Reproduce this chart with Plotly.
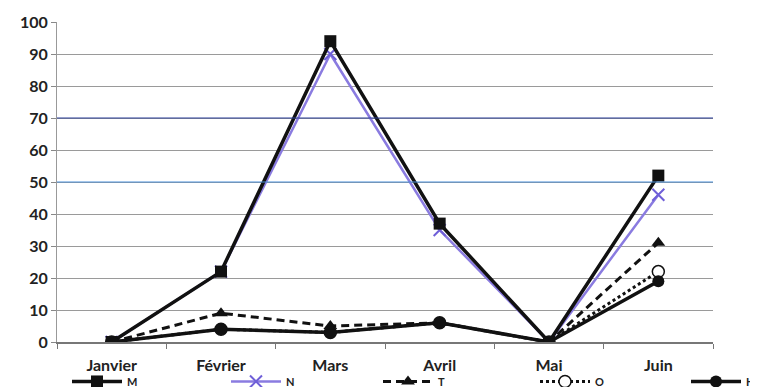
import plotly.graph_objects as go

months = ["Janvier", "Février", "Mars", "Avril", "Mai", "Juin"]
M = [0, 22, 94, 37, 0, 52]
N = [0, 22, 90, 35, 0, 46]
T = [0, 9, 5, 6, 0, 31]
O = [0, 4, 3, 6, 0, 22]
H = [0, 4, 3, 6, 0, 19]
y_ticks = [0, 10, 20, 30, 40, 50, 60, 70, 80, 90, 100]

fig = go.Figure()
fig.add_trace(go.Scatter(x=months, y=N, name="N", mode="lines+markers", legend="legend2",
                         line=dict(color="#8a7be0", width=2.5),
                         marker=dict(symbol="x-thin", size=12, line=dict(color="#6f5fd8", width=2))))
fig.add_trace(go.Scatter(x=months, y=M, name="M", mode="lines+markers", legend="legend",
                         line=dict(color="#111111", width=3.5),
                         marker=dict(symbol="square", size=12, color="#111111")))
fig.add_trace(go.Scatter(x=months, y=T, name="T", mode="lines+markers", legend="legend3",
                         line=dict(color="#111111", width=3, dash="8px,5px"),
                         marker=dict(symbol="triangle-up", size=12, color="#111111")))
fig.add_trace(go.Scatter(x=months, y=O, name="O", mode="lines+markers", legend="legend4",
                         line=dict(color="#111111", width=3, dash="dot"),
                         marker=dict(symbol="circle", size=12, color="white",
                                     line=dict(color="#111111", width=1.5))))
fig.add_trace(go.Scatter(x=months, y=H, name="H", mode="lines+markers", legend="legend5",
                         line=dict(color="#111111", width=3.5),
                         marker=dict(symbol="circle", size=12, color="#111111")))

plot_left, plot_w = 57, 656
leg_px = {"legend": 67, "legend2": 226, "legend3": 378, "legend4": 535, "legend5": 686}
leg_common = dict(orientation="h", xanchor="left", y=-0.078, yanchor="top",
                  font=dict(size=11, family="Lato", weight="bold"),
                  itemwidth=50, bgcolor="rgba(0,0,0,0)", borderwidth=0)
legends = {k: dict(x=(v - plot_left) / plot_w, **leg_common) for k, v in leg_px.items()}

fig.update_layout(
    width=758, height=387,
    margin=dict(l=49, r=53, t=14, b=53, autoexpand=False),
    paper_bgcolor="white", plot_bgcolor="white",
    font=dict(family="Lato", size=13, color="#222222"),
    showlegend=True,
    **legends,
    xaxis=dict(type="category", tickson="boundaries", ticks="outside", ticklen=5,
               tickcolor="#777777", showline=True, linecolor="#777777", linewidth=1.5,
               showgrid=False, tickfont=dict(size=16, family="Lato", weight="bold"),
               ticklabelstandoff=8, range=[-0.5, 5.5]),
    yaxis=dict(range=[0, 100], tickvals=y_ticks, ticks="outside", ticklen=5,
               tickcolor="#888888", showline=True, linecolor="#999999", linewidth=1,
               gridcolor="#9a9a9a", gridwidth=1, zeroline=False,
               tickfont=dict(size=16, family="Lato", weight="bold")),
)

fig.add_shape(type="line", xref="paper", yref="y", x0=0, x1=1, y0=70, y1=70,
              line=dict(color="#2a3f9a", width=1.2))
fig.add_shape(type="line", xref="paper", yref="y", x0=0, x1=1, y0=50, y1=50,
              line=dict(color="#4a90d9", width=1.2))

fig.write_html("out.html")
